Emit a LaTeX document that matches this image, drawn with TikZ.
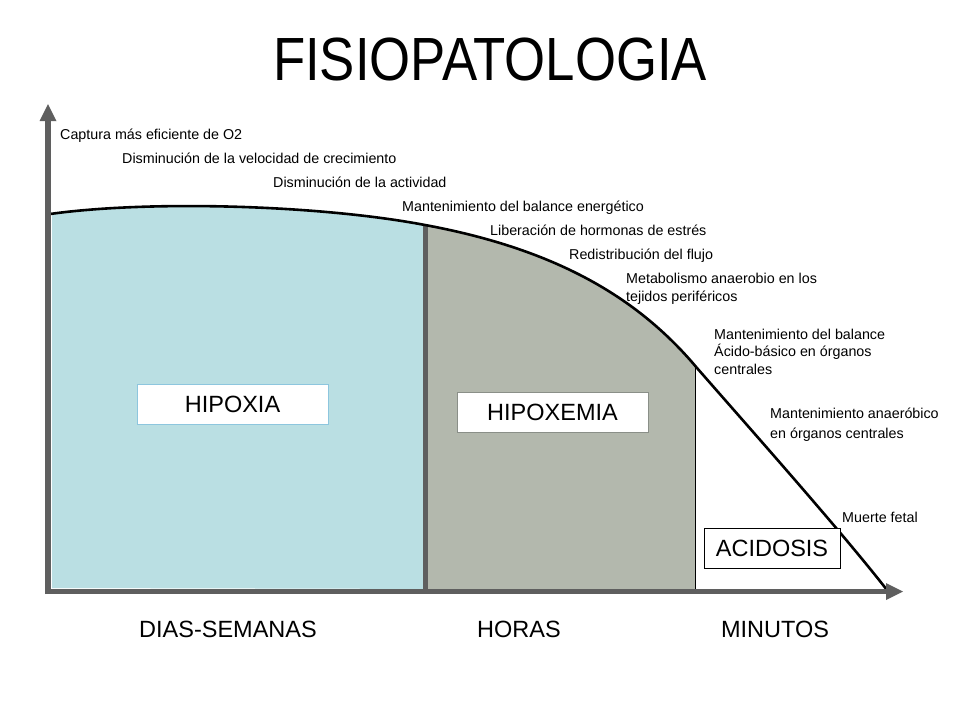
\documentclass[tikz,border=0pt]{standalone}
\usepackage{fontspec}
\setmainfont{Liberation Sans}
\usepackage{tikz}
\usetikzlibrary{positioning}
\definecolor{axisgray}{HTML}{5F5F5F}
\definecolor{hipoxiablue}{HTML}{BADFE3}
\definecolor{hipoxemiagray}{HTML}{B3B8AD}
\definecolor{blueborder}{HTML}{8DC6DE}
\definecolor{grayborder}{HTML}{8A8F88}
\begin{document}
\begin{tikzpicture}[x=1pt,y=1pt]
\tikzstyle{every node}+=[inner sep=0pt]
\tikzstyle{effect}=[anchor=base west,align=left,font=\fontsize{14.3}{17.5}\selectfont]
\tikzstyle{period}=[anchor=base,font=\fontsize{23.5}{28}\selectfont]
\tikzstyle{stagebox}=[fill=white,line width=1pt,minimum width=191pt,minimum height=40pt,font=\fontsize{23.5}{28}\selectfont]
\useasboundingbox (0,0) rectangle (960,-720);
% regions under the curve
\begin{scope}
\clip (52,-100) rectangle (423,-588);
\fill [hipoxiablue] (50,-588) -- (50,-214) .. controls (150,-200) and (320,-205) .. (425,-225) .. controls (560,-250) and (640,-300) .. (697,-368) .. controls (760,-440) and (840,-530) .. (887,-590) -- cycle;
\end{scope}
\begin{scope}
\clip (427,-100) rectangle (695,-588);
\fill [hipoxemiagray] (50,-588) -- (50,-214) .. controls (150,-200) and (320,-205) .. (425,-225) .. controls (560,-250) and (640,-300) .. (697,-368) .. controls (760,-440) and (840,-530) .. (887,-590) -- cycle;
\end{scope}
\draw [axisgray,line width=5pt] (425,-225) -- (425,-591);
\draw [black,line width=1pt] (695,-366) -- (695,-591);
\draw [black,line width=2.6pt] (50,-214) .. controls (150,-200) and (320,-205) .. (425,-225) .. controls (560,-250) and (640,-300) .. (697,-368) .. controls (760,-440) and (840,-530) .. (887,-590);
% axes
\coordinate (o) at (48,-591.5);
\coordinate (ytip) at (48,-104);
\coordinate (xtip) at (903,-591.5);
\draw [axisgray,line width=5.5pt] (48,-594) -- (48,-120);
\fill [axisgray] (ytip) -- (39.5,-121) -- (56.5,-121) -- cycle;
\draw [axisgray,line width=5.5pt] (45.25,-591.5) -- (887,-591.5);
\fill [axisgray] (xtip) -- (886,-583) -- (886,-600) -- cycle;
% title
\node (title) [anchor=base] at (490,-80) {\scalebox{0.865}[1]{\fontsize{61}{70}\selectfont FISIOPATOLOGIA}};
% effects along the curve
\node (captura) [effect] at (60,-139) {Captura más eficiente de O2};
\node (crecim) [effect] at (122,-163) {Disminución de la velocidad de crecimiento};
\node (activ) [effect] at (273,-187) {Disminución de la actividad};
\node (energ) [effect] at (402,-211) {Mantenimiento del balance energético};
\node (hormon) [effect] at (490,-235) {Liberación de hormonas de estrés};
\node (flujo) [effect] at (569,-259) {Redistribución del flujo};
\node (metab) [effect] at (626,-301) {Metabolismo anaerobio en los\\tejidos periféricos};
\node (acido) [effect] at (714,-374) {Mantenimiento del balance\\Ácido-básico en órganos\\centrales};
\node (anaer) [effect] at (770,-438) {Mantenimiento anaeróbico\\[2pt]en órganos centrales};
\node (muerte) [effect] at (842,-522) {Muerte fetal};
% stages
\node (hipoxia) [stagebox,draw=blueborder] at (232.5,-404) {HIPOXIA};
\node (hipoxemia) [stagebox,draw=grayborder] at (552.5,-412) {HIPOXEMIA};
\node (acidosis) [stagebox,draw=black,minimum width=136pt] at (772,-548) {ACIDOSIS};
% time scale
\node (dias) [period] at (228,-637) {DIAS-SEMANAS};
\node (horas) [period] at (519,-637) {HORAS};
\node (minutos) [period] at (775,-637) {MINUTOS};
\end{tikzpicture}
\end{document}
